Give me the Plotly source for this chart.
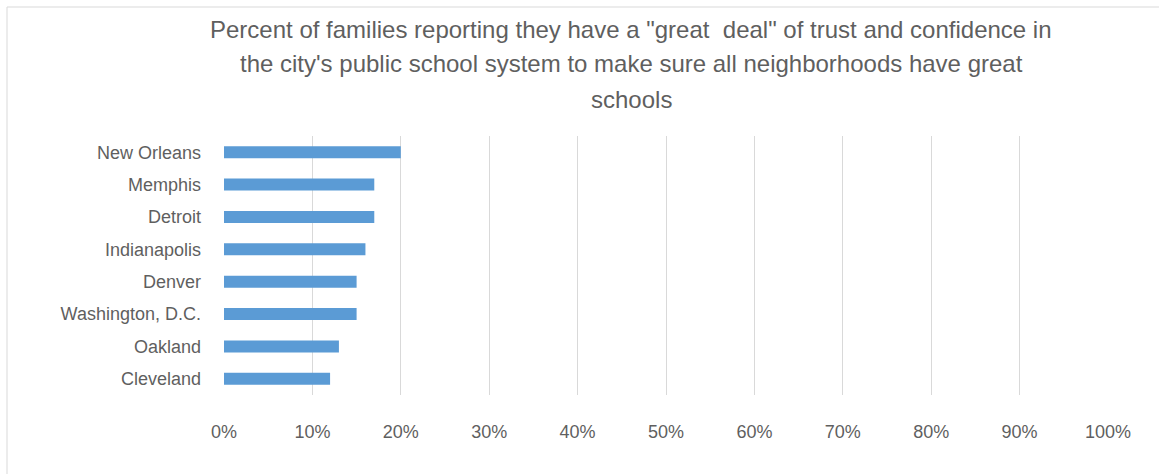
import plotly.graph_objects as go

cities = ["New Orleans", "Memphis", "Detroit", "Indianapolis", "Denver",
          "Washington, D.C.", "Oakland", "Cleveland"]
share = [0.20, 0.17, 0.17, 0.16, 0.15, 0.15, 0.13, 0.12]
x_ticks = [0, 0.1, 0.2, 0.3, 0.4, 0.5, 0.6, 0.7, 0.8, 0.9, 1.0]
title_lines = [
    'Percent of families reporting they have a "great  deal" of trust and confidence in',
    "the city's public school system to make sure all neighborhoods have great",
    "schools",
]

W, H = 1159, 474
L, R, T, B = 224, 51, 136, 79
PW, PH = W - L - R, H - T - B
FONT = "Liberation Sans, Arial, sans-serif"
GREY = "#5f5f5f"


def px_x(x):
    return (x - L) / PW


def px_y(y):
    return (H - B - y) / PH


fig = go.Figure(go.Bar(
    x=share, y=cities, orientation="h",
    marker=dict(color="#5B9BD5", line=dict(width=0)),
    hoverinfo="x+y",
))

fig.update_layout(
    width=W, height=H,
    margin=dict(l=L, r=R, t=T, b=B),
    paper_bgcolor="white", plot_bgcolor="white",
    bargap=0.63,
    showlegend=False,
    font=dict(family=FONT, color=GREY, size=18),
    xaxis=dict(range=[0, 1.0], tickvals=x_ticks, tickformat=".0%",
               showgrid=True, gridcolor="#D9D9D9", gridwidth=1,
               zeroline=False, showline=False, ticks="",
               ticklabelstandoff=24, tickfont=dict(size=18, color=GREY)),
    yaxis=dict(categoryorder="array", categoryarray=cities[::-1],
               showgrid=False, zeroline=False, showline=False, ticks="",
               ticklabelstandoff=22, tickfont=dict(size=18, color=GREY)),
)

# three-line chart title, centred over the chart area
for line, yc in zip(title_lines, [30, 64, 99]):
    fig.add_annotation(text=line, xref="paper", yref="paper",
                       x=px_x(631), y=px_y(yc), xanchor="center", yanchor="middle",
                       showarrow=False, font=dict(family=FONT, size=24, color=GREY))

# light frame around the whole chart area
fig.add_shape(type="rect", xref="paper", yref="paper",
              x0=px_x(7), x1=px_x(W + 5), y0=px_y(H + 5), y1=px_y(7),
              line=dict(color="#D9D9D9", width=1), fillcolor="rgba(0,0,0,0)",
              layer="below")

fig.write_html("out.html")
